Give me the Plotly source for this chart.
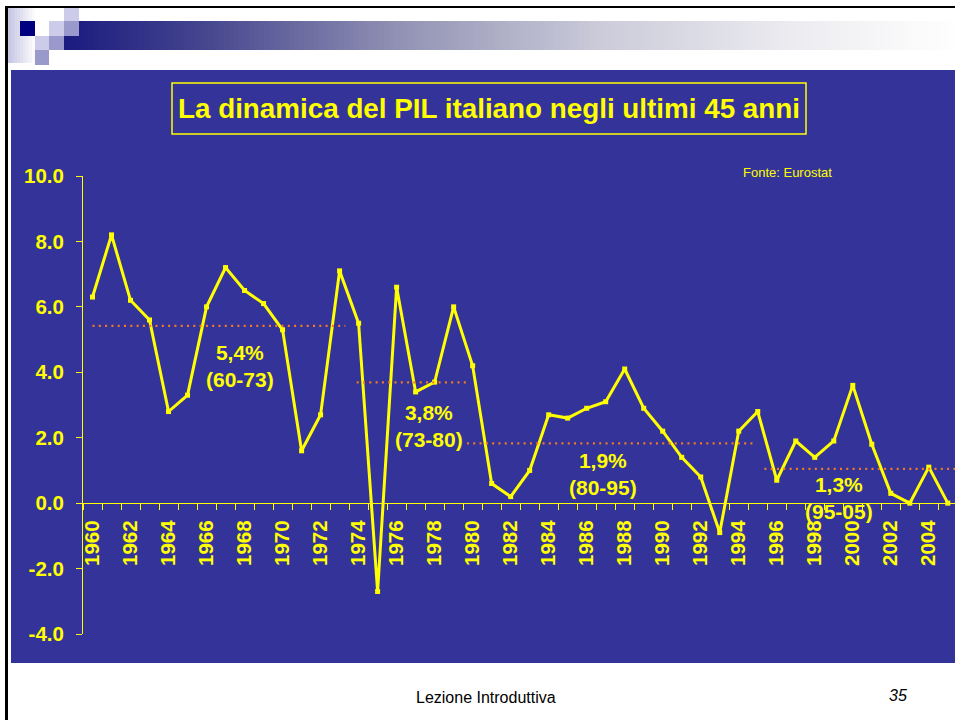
import plotly.graph_objects as go

# ---------------- data ----------------
years = list(range(1960, 2006))
gdp_growth = [6.3, 8.2, 6.2, 5.6, 2.8, 3.3, 6.0, 7.2, 6.5, 6.1,
              5.3, 1.6, 2.7, 7.1, 5.5, -2.7, 6.6, 3.4, 3.7, 6.0,
              4.2, 0.6, 0.2, 1.0, 2.7, 2.6, 2.9, 3.1, 4.1, 2.9,
              2.2, 1.4, 0.8, -0.9, 2.2, 2.8, 0.7, 1.9, 1.4, 1.9,
              3.6, 1.8, 0.3, 0.0, 1.1, 0.0]
avg_start = [1960.0, 1973.9, 1979.7, 1995.35]
avg_end = [1973.3, 1979.7, 1994.95, 2005.5]
avg_level = [5.42, 3.69, 1.83, 1.05]
avg_labels = ["5,4%<br>(60-73)", "3,8%<br>(73-80)", "1,9%<br>(80-95)", "1,3%<br>(95-05)"]
tick_years = list(range(1960, 2006, 2))
tick_text = [str(y) for y in tick_years]
y_ticks = [-4, -2, 0, 2, 4, 6, 8, 10]
y_tick_text = ["-4.0", "-2.0", "0.0", "2.0", "4.0", "6.0", "8.0", "10.0"]
title_text = "La dinamica del PIL italiano negli ultimi 45 anni"

# ---------------- style / layout constants ----------------
W, H = 955, 720
L, R, T, B = 83, 0, 176, 86
PW, PH = W - L - R, H - T - B
YEL = "#FFFF00"
BLUE = "#333399"
ORANGE = "#F47A20"
FAM = "Liberation Sans, Arial, sans-serif"
BOLD = dict(family=FAM, weight="bold", color=YEL)
X0 = 1959.5
X1 = X0 + PW / 19.007


def px(x):
    return (x - L) / PW


def py(y):
    return (H - B - y) / PH


label_pos = [(1967.75, 4.2), (1977.69, 2.35), (1986.85, 0.9), (1999.26, 0.17)]

fig = go.Figure()

fig.add_trace(go.Scatter(
    x=years, y=gdp_growth, mode="lines+markers",
    line=dict(color=YEL, width=3),
    marker=dict(symbol="square", size=5, color=YEL),
    showlegend=False, cliponaxis=False, hoverinfo="skip"))

for s, e, lv in zip(avg_start, avg_end, avg_level):
    fig.add_trace(go.Scatter(
        x=[s, e], y=[lv, lv], mode="lines",
        line=dict(color=ORANGE, width=2.2, dash="2px,4.3px"),
        showlegend=False, hoverinfo="skip"))

shapes = []
# blue panel
shapes.append(dict(type="rect", xref="paper", yref="paper", layer="below",
                   x0=px(11), x1=px(W + 5), y0=py(663), y1=py(70),
                   fillcolor=BLUE, line=dict(width=0)))


def hexc(c):
    c = c.lstrip("#")
    return tuple(int(c[i:i + 2], 16) for i in (0, 2, 4))


def lerp_color(stops, x):
    for (xa, ca), (xb, cb) in zip(stops[:-1], stops[1:]):
        if xa <= x <= xb:
            t = (x - xa) / (xb - xa)
            a, b = hexc(ca), hexc(cb)
            return "rgb(%d,%d,%d)" % tuple(round(a[i] + (b[i] - a[i]) * t) for i in range(3))
    return stops[-1][1]


# top gradient bar
grad_stops = [(64, "#1a1a80"), (200, "#44448e"), (400, "#9292b4"),
              (600, "#cbcbda"), (800, "#ededf1"), (960, "#ffffff")]
step = 5
x = 64
while x < W:
    c = lerp_color(grad_stops, x + step / 2)
    shapes.append(dict(type="rect", xref="paper", yref="paper",
                       x0=px(x), x1=px(x + step + 0.6), y0=py(50), y1=py(21),
                       fillcolor=c, line=dict(width=0)))
    x += step

# left light band
lb_stops = [(8, "#c4c4e2"), (36, "#ffffff")]
for xx in range(8, 36, 3):
    c = lerp_color(lb_stops, xx + 1.5)
    shapes.append(dict(type="rect", xref="paper", yref="paper",
                       x0=px(xx), x1=px(xx + 3.5), y0=py(63), y1=py(8),
                       fillcolor=c, line=dict(width=0)))

# decorative squares
LIGHT, MED, NAVY = "#ccccea", "#9999cc", "#000080"
squares = [(20, 35, 21, 36, NAVY), (35, 49, 36, 50, LIGHT), (35, 49, 50, 65, MED),
           (49, 64, 21, 36, LIGHT), (49, 64, 36, 50, MED), (64, 79, 21, 36, MED),
           (64, 79, 8, 21, LIGHT)]
for a, b, c0, c1, col in squares:
    shapes.append(dict(type="rect", xref="paper", yref="paper",
                       x0=px(a), x1=px(b), y0=py(c1), y1=py(c0),
                       fillcolor=col, line=dict(width=0)))

# black page borders
shapes.append(dict(type="line", xref="paper", yref="paper",
                   x0=px(6), x1=px(W + 5), y0=py(7), y1=py(7),
                   line=dict(color="black", width=2)))
shapes.append(dict(type="line", xref="paper", yref="paper",
                   x0=px(6.5), x1=px(6.5), y0=py(H + 5), y1=py(6),
                   line=dict(color="black", width=3)))
# title box
shapes.append(dict(type="rect", xref="paper", yref="paper",
                   x0=px(172), x1=px(806), y0=py(134), y1=py(83),
                   line=dict(color=YEL, width=1.5), fillcolor="rgba(0,0,0,0)"))

annotations = []
annotations.append(dict(text=title_text, xref="paper", yref="paper",
                        x=px(489), y=py(108.5), showarrow=False,
                        xanchor="center", yanchor="middle",
                        font=dict(BOLD, size=27.8)))
annotations.append(dict(text="Fonte: Eurostat", xref="paper", yref="paper",
                        x=px(787), y=py(172), showarrow=False,
                        xanchor="center", yanchor="middle",
                        font=dict(family=FAM, size=13, color=YEL)))
for (lx, ly), txt in zip(label_pos, avg_labels):
    annotations.append(dict(text=txt, x=lx, y=ly, xref="x", yref="y", showarrow=False,
                            xanchor="center", yanchor="middle", align="center",
                            font=dict(BOLD, size=21)))
annotations.append(dict(text="Lezione Introduttiva", xref="paper", yref="paper",
                        x=px(486), y=py(697), showarrow=False,
                        xanchor="center", yanchor="middle",
                        font=dict(family=FAM, size=16, color="black")))
annotations.append(dict(text="<i>35</i>", xref="paper", yref="paper",
                        x=px(898), y=py(695), showarrow=False,
                        xanchor="center", yanchor="middle",
                        font=dict(family=FAM, size=16, color="black")))

fig.update_layout(
    width=W, height=H, autosize=False,
    margin=dict(l=L, r=R, t=T, b=B, pad=0),
    paper_bgcolor="white", plot_bgcolor=BLUE,
    shapes=shapes, annotations=annotations, showlegend=False,
    hovermode=False,
    xaxis=dict(
        type="linear", range=[X0, X1], anchor="free", position=4 / 14,
        showgrid=False, zeroline=False,
        showline=True, linecolor=YEL, linewidth=1,
        tickmode="array", tickvals=tick_years, ticktext=tick_text,
        ticks="", tickangle=-90, tickfont=dict(BOLD, size=20.5),
        ticklabelstandoff=8,
        minor=dict(tick0=1959.5, dtick=1, ticks="outside", ticklen=6,
                   tickcolor=YEL, tickwidth=1, showgrid=False),
    ),
    yaxis=dict(
        range=[-4, 10], tickmode="array", tickvals=y_ticks, ticktext=y_tick_text,
        showgrid=False, zeroline=False,
        showline=True, linecolor=YEL, linewidth=1,
        ticks="outside", ticklen=6, tickcolor=YEL, tickwidth=1,
        tickfont=dict(BOLD, size=20.5), ticklabelstandoff=8,
    ),
)

fig.write_html("out.html",
               config={"displayModeBar": False, "staticPlot": True},
               post_script="document.body.style.margin='0px';document.body.style.overflow='hidden';")
